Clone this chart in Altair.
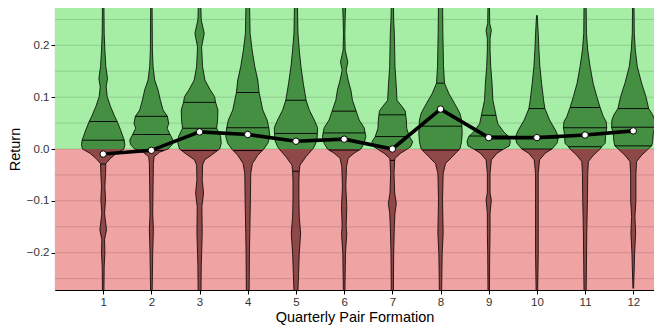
import altair as alt
import numpy as np
import pandas as pd

QUARTERS = list(range(1, 13))

# violin half-width profiles (y = return level, w = half width in x units)
V1_Y = [0.29, 0.223, 0.191, 0.159, 0.136, 0.120, 0.101, 0.082, 0.062, 0.053, 0.037, 0.017, 0.008, 0.0, -0.008, -0.018, -0.028, -0.047, -0.073, -0.098, -0.124, -0.156, -0.175, -0.201, -0.227, -0.29]
V1_W = [0.014, 0.021, 0.035, 0.055, 0.090, 0.062, 0.083, 0.152, 0.243, 0.291, 0.360, 0.437, 0.450, 0.430, 0.277, 0.152, 0.055, 0.049, 0.035, 0.049, 0.028, 0.069, 0.028, 0.035, 0.021, 0.014]
V2_Y = [0.29, 0.191, 0.159, 0.133, 0.114, 0.094, 0.075, 0.063, 0.049, 0.040, 0.028, 0.017, 0.008, 0.0, -0.006, -0.015, -0.028, -0.073, -0.124, -0.156, -0.201, -0.29]
V2_W = [0.014, 0.021, 0.035, 0.069, 0.139, 0.187, 0.243, 0.333, 0.360, 0.326, 0.388, 0.450, 0.430, 0.347, 0.173, 0.055, 0.042, 0.035, 0.028, 0.042, 0.028, 0.014]
V3_Y = [0.29, 0.249, 0.223, 0.197, 0.159, 0.133, 0.114, 0.101, 0.090, 0.075, 0.056, 0.040, 0.024, 0.011, 0.0, -0.012, -0.021, -0.031, -0.060, -0.085, -0.111, -0.163, -0.201, -0.227, -0.29]
V3_W = [0.021, 0.035, 0.097, 0.042, 0.062, 0.111, 0.222, 0.312, 0.333, 0.381, 0.374, 0.354, 0.437, 0.450, 0.416, 0.243, 0.104, 0.062, 0.055, 0.083, 0.049, 0.055, 0.042, 0.035, 0.028]
V4_Y = [0.29, 0.223, 0.191, 0.159, 0.133, 0.109, 0.094, 0.075, 0.056, 0.041, 0.024, 0.011, 0.0, -0.012, -0.028, -0.047, -0.098, -0.163, -0.201, -0.29]
V4_W = [0.035, 0.049, 0.090, 0.146, 0.208, 0.236, 0.270, 0.312, 0.402, 0.437, 0.457, 0.416, 0.333, 0.208, 0.097, 0.062, 0.055, 0.042, 0.035, 0.028]
V5_Y = [0.29, 0.223, 0.191, 0.159, 0.127, 0.094, 0.075, 0.056, 0.041, 0.030, 0.017, 0.0045, 0.0, -0.015, -0.031, -0.043, -0.060, -0.098, -0.130, -0.163, -0.201, -0.240, -0.29]
V5_W = [0.028, 0.042, 0.069, 0.104, 0.152, 0.211, 0.277, 0.381, 0.450, 0.444, 0.437, 0.381, 0.347, 0.208, 0.083, 0.069, 0.062, 0.062, 0.069, 0.097, 0.069, 0.055, 0.035]
V6_Y = [0.29, 0.249, 0.223, 0.191, 0.168, 0.152, 0.133, 0.114, 0.094, 0.073, 0.056, 0.041, 0.024, 0.011, 0.0, -0.008, -0.018, -0.034, -0.073, -0.111, -0.150, -0.163, -0.201, -0.29]
V6_W = [0.035, 0.021, 0.014, 0.021, 0.076, 0.042, 0.083, 0.139, 0.173, 0.250, 0.312, 0.416, 0.450, 0.416, 0.347, 0.208, 0.083, 0.049, 0.035, 0.055, 0.042, 0.055, 0.028, 0.014]
V7_Y = [0.29, 0.249, 0.223, 0.191, 0.159, 0.120, 0.094, 0.082, 0.073, 0.066, 0.056, 0.040, 0.024, 0.014, 0.0045, 0.0, -0.008, -0.018, -0.022, -0.047, -0.085, -0.105, -0.124, -0.150, -0.201, -0.29]
V7_W = [0.021, 0.028, 0.042, 0.049, 0.055, 0.083, 0.097, 0.201, 0.270, 0.277, 0.291, 0.298, 0.354, 0.423, 0.381, 0.312, 0.173, 0.055, 0.049, 0.035, 0.049, 0.083, 0.055, 0.042, 0.028, 0.021]
V8_Y = [0.29, 0.223, 0.159, 0.127, 0.107, 0.088, 0.069, 0.056, 0.044, 0.030, 0.014, 0.0, -0.005, -0.015, -0.028, -0.047, -0.098, -0.163, -0.201, -0.29]
V8_W = [0.042, 0.049, 0.062, 0.083, 0.173, 0.291, 0.402, 0.437, 0.444, 0.450, 0.437, 0.402, 0.347, 0.243, 0.104, 0.055, 0.042, 0.055, 0.035, 0.021]
V9_Y = [0.29, 0.242, 0.229, 0.213, 0.191, 0.159, 0.127, 0.094, 0.065, 0.049, 0.033, 0.024, 0.014, 0.006, 0.0, -0.008, -0.021, -0.047, -0.085, -0.098, -0.124, -0.163, -0.201, -0.29]
V9_W = [0.014, 0.021, 0.055, 0.028, 0.028, 0.042, 0.069, 0.087, 0.152, 0.187, 0.312, 0.416, 0.450, 0.430, 0.312, 0.173, 0.055, 0.028, 0.028, 0.055, 0.028, 0.028, 0.021, 0.014]
V10_Y = [0.258, 0.223, 0.191, 0.159, 0.127, 0.094, 0.078, 0.056, 0.037, 0.027, 0.021, 0.011, 0.0, -0.008, -0.021, -0.047, -0.098, -0.163, -0.201, -0.29]
V10_W = [0.007, 0.028, 0.042, 0.062, 0.097, 0.139, 0.166, 0.263, 0.381, 0.430, 0.444, 0.416, 0.312, 0.173, 0.055, 0.028, 0.028, 0.028, 0.028, 0.014]
V11_Y = [0.29, 0.223, 0.191, 0.159, 0.127, 0.101, 0.080, 0.062, 0.053, 0.041, 0.030, 0.011, 0.0045, 0.0, -0.012, -0.024, -0.047, -0.098, -0.163, -0.227, -0.29]
V11_W = [0.021, 0.028, 0.055, 0.104, 0.166, 0.243, 0.312, 0.381, 0.437, 0.450, 0.430, 0.416, 0.347, 0.312, 0.173, 0.069, 0.055, 0.049, 0.035, 0.028, 0.021]
V12_Y = [0.29, 0.223, 0.191, 0.159, 0.127, 0.101, 0.078, 0.066, 0.056, 0.042, 0.030, 0.014, 0.006, 0.0, -0.012, -0.024, -0.047, -0.098, -0.130, -0.163, -0.201, -0.227, -0.269]
V12_W = [0.014, 0.021, 0.042, 0.083, 0.173, 0.263, 0.319, 0.402, 0.444, 0.450, 0.416, 0.402, 0.381, 0.312, 0.173, 0.069, 0.055, 0.055, 0.035, 0.049, 0.028, 0.021, 0.007]

Q1 = [-0.029, -0.003, -0.003, -0.003, -0.043, -0.002, -0.022, -0.002, -0.001, 0.0, 0.0045, 0.006]
MEDIAN = [0.017, 0.028, 0.040, 0.041, 0.030, 0.031, 0.024, 0.044, 0.025, 0.021, 0.041, 0.042]
Q3 = [0.053, 0.063, 0.090, 0.109, 0.094, 0.073, 0.066, 0.127, 0.065, 0.078, 0.080, 0.078]
MEANS = [-0.0097, -0.0026, 0.033, 0.028, 0.015, 0.019, 0.0, 0.077, 0.022, 0.022, 0.027, 0.035]

PROFILES_Y = [V1_Y, V2_Y, V3_Y, V4_Y, V5_Y, V6_Y, V7_Y, V8_Y, V9_Y, V10_Y, V11_Y, V12_Y]
PROFILES_W = [V1_W, V2_W, V3_W, V4_W, V5_W, V6_W, V7_W, V8_W, V9_W, V10_W, V11_W, V12_W]

GREEN_BG = "#A6EEA6"
RED_BG = "#F0A3A3"
GREEN_V = "#458F42"
RED_V = "#8E4848"

W, H = 599, 282
XDOM = [0, 12.43]
YDOM = [-0.272, 0.272]

area_rows, line_rows, q_rows = [], [], []
for q, ys, ws in zip(QUARTERS, PROFILES_Y, PROFILES_W):
    for y, w in zip(ys, ws):
        if y >= 0:
            area_rows.append(dict(q=q, part="pos", vid=f"{q}p", y=y, xl=q - w, xr=q + w))
        if y <= 0:
            area_rows.append(dict(q=q, part="neg", vid=f"{q}n", y=y, xl=q - w, xr=q + w))
        line_rows.append(dict(lid=f"{q}L", y=y, x=q - w))
        line_rows.append(dict(lid=f"{q}R", y=y, x=q + w))
    yr, wr = np.array(ys[::-1]), np.array(ws[::-1])
    for qv in (Q1[q - 1], MEDIAN[q - 1], Q3[q - 1]):
        hw = float(np.interp(qv, yr, wr))
        q_rows.append(dict(y=qv, xl=q - hw, xr=q + hw))

area_df = pd.DataFrame(area_rows)
line_df = pd.DataFrame(line_rows)
q_df = pd.DataFrame(q_rows)
mean_df = pd.DataFrame({"q": QUARTERS, "mean": MEANS})
bg_df = pd.DataFrame({"x0": [XDOM[0], XDOM[0]], "x1": [XDOM[1], XDOM[1]],
                      "y0": [0.0, -0.3], "y1": [0.3, 0.0], "side": ["pos", "neg"]})
grid_df = pd.DataFrame({"g": np.round(np.arange(-0.25, 0.2501, 0.05), 3)})

xscale = alt.Scale(domain=XDOM, nice=False, zero=False)
yscale = alt.Scale(domain=YDOM, nice=False, zero=False)
xaxis = alt.Axis(values=QUARTERS, format="d", title="Quarterly Pair Formation", grid=False)
yaxis = alt.Axis(values=[-0.2, -0.1, 0.0, 0.1, 0.2], format=".1f", title="Return", grid=False)


def X(field):
    return alt.X(field, type="quantitative", scale=xscale, axis=xaxis, stack=None)


def Y(field):
    return alt.Y(field, type="quantitative", scale=yscale, axis=yaxis)


bg = alt.Chart(bg_df).mark_rect(clip=True).encode(
    x=X("x0"), x2="x1", y=Y("y0"), y2="y1",
    color=alt.Color("side:N", scale=alt.Scale(domain=["pos", "neg"], range=[GREEN_BG, RED_BG]), legend=None),
)
grid = alt.Chart(grid_df).mark_rule(color="black", opacity=0.14, strokeWidth=1).encode(y=Y("g"))

area_pos = alt.Chart(area_df).transform_filter("datum.part == 'pos'").mark_area(
    orient="horizontal", clip=True, color=GREEN_V).encode(
    y=Y("y"), x=X("xl"), x2="xr", detail="vid:N")
area_neg = alt.Chart(area_df).transform_filter("datum.part == 'neg'").mark_area(
    orient="horizontal", clip=True, color=RED_V).encode(
    y=Y("y"), x=X("xl"), x2="xr", detail="vid:N")
outline = alt.Chart(line_df).mark_line(color="black", strokeWidth=0.8, clip=True).encode(
    x=X("x"), y=Y("y"), detail="lid:N", order=alt.Order("y:Q"))
quart = alt.Chart(q_df).mark_rule(color="black", strokeWidth=0.9, clip=True).encode(
    x=X("xl"), x2="xr", y=Y("y"))
mline = alt.Chart(mean_df).mark_line(color="black", strokeWidth=3.6).encode(
    x=X("q"), y=Y("mean"))
mpts = alt.Chart(mean_df).mark_point(filled=True, fill="white", stroke="black", strokeWidth=1,
                                     opacity=1, size=42).encode(x=X("q"), y=Y("mean"))

chart = alt.layer(bg, grid, area_pos, area_neg, outline, quart, mline, mpts).properties(
    width=W, height=H,
    autosize=alt.AutoSizeParams(type="none"),
    padding={"left": 47, "top": 0, "right": 0, "bottom": 36},
).configure_view(stroke=None).configure_axis(
    labelFont="Liberation Sans", titleFont="Liberation Sans",
    labelFontSize=11.5, titleFontSize=14.5, titleFontWeight="normal",
    labelColor="#333333", titleColor="black",
    domainColor="black", domainWidth=1.1, tickColor="black", tickSize=4,
    labelPadding=2, zindex=1,
).configure_axisY(titlePadding=4).configure_axisX(titlePadding=3)

chart.save("out.html", embed_options={"renderer": "svg", "actions": False})
